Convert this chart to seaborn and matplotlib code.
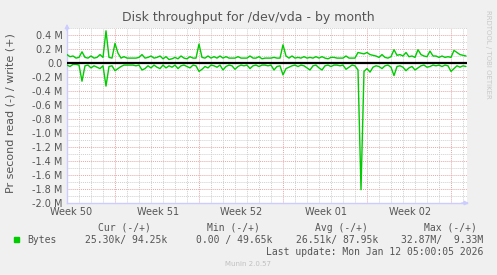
import numpy as np
import pandas as pd
import matplotlib
matplotlib.use("Agg")
import matplotlib.pyplot as plt
import matplotlib.transforms as mtransforms
from matplotlib.ticker import MultipleLocator, FixedLocator
import seaborn as sns

# ---------------- data (MB/s, one sample every 6 h) ----------------
write_vals = [
    0.12, 0.09, 0.10, 0.07, 0.08, 0.16, 0.08, 0.07, 0.10, 0.07,
    0.08, 0.12, 0.08, 0.46, 0.08, 0.07, 0.28, 0.14, 0.07, 0.09,
    0.07, 0.07, 0.07, 0.07, 0.08, 0.12, 0.07, 0.08, 0.10, 0.07,
    0.08, 0.10, 0.06, 0.09, 0.05, 0.06, 0.08, 0.06, 0.10, 0.07,
    0.06, 0.09, 0.07, 0.07, 0.27, 0.08, 0.07, 0.10, 0.07, 0.09,
    0.07, 0.10, 0.07, 0.09, 0.07, 0.07, 0.07, 0.09, 0.07, 0.07,
    0.07, 0.10, 0.07, 0.07, 0.09, 0.06, 0.07, 0.07, 0.07, 0.08,
    0.07, 0.07, 0.26, 0.10, 0.07, 0.10, 0.07, 0.08, 0.07, 0.09,
    0.07, 0.08, 0.07, 0.09, 0.07, 0.09, 0.07, 0.06, 0.08, 0.08,
    0.07, 0.07, 0.07, 0.10, 0.07, 0.07, 0.07, 0.15, 0.14, 0.13,
    0.15, 0.12, 0.11, 0.10, 0.08, 0.12, 0.08, 0.07, 0.09, 0.19,
    0.11, 0.12, 0.10, 0.15, 0.09, 0.10, 0.08, 0.19, 0.12, 0.10,
    0.09, 0.17, 0.10, 0.10, 0.08, 0.10, 0.08, 0.09, 0.08, 0.18,
    0.15, 0.12, 0.11, 0.10,
]
read_vals = [
    0.03, 0.05, 0.02, 0.02, 0.03, 0.26, 0.04, 0.03, 0.07, 0.04,
    0.06, 0.08, 0.04, 0.33, 0.05, 0.04, 0.11, 0.08, 0.05, 0.03,
    0.03, 0.03, 0.03, 0.04, 0.03, 0.10, 0.08, 0.04, 0.07, 0.03,
    0.06, 0.08, 0.03, 0.07, 0.04, 0.06, 0.03, 0.08, 0.04, 0.03,
    0.05, 0.07, 0.03, 0.04, 0.12, 0.09, 0.05, 0.07, 0.03, 0.04,
    0.06, 0.03, 0.10, 0.05, 0.03, 0.04, 0.09, 0.05, 0.03, 0.04,
    0.03, 0.08, 0.04, 0.03, 0.05, 0.03, 0.03, 0.04, 0.03, 0.10,
    0.05, 0.04, 0.17, 0.08, 0.06, 0.04, 0.03, 0.05, 0.03, 0.04,
    0.07, 0.10, 0.04, 0.03, 0.07, 0.10, 0.04, 0.03, 0.05, 0.03,
    0.03, 0.04, 0.03, 0.09, 0.06, 0.03, 0.04, 0.10, 1.81, 0.12,
    0.08, 0.13, 0.06, 0.04, 0.05, 0.08, 0.04, 0.03, 0.06, 0.18,
    0.05, 0.04, 0.06, 0.11, 0.07, 0.05, 0.10, 0.07, 0.04, 0.03,
    0.06, 0.05, 0.03, 0.04, 0.03, 0.05, 0.03, 0.04, 0.12, 0.08,
    0.04, 0.06, 0.04, 0.05,
]
sample_step_days = 0.25
week_labels = ["Week 50", "Week 51", "Week 52", "Week 01", "Week 02"]
week_label_days = [0.3, 7.55, 14.55, 21.55, 28.55]
week_boundary_days = [4, 11, 18, 25, 32]
ytick_vals = [0.4, 0.2, 0.0, -0.2, -0.4, -0.6, -0.8, -1.0, -1.2, -1.4,
              -1.6, -1.8, -2.0]
ytick_labels = ["0.4 M", "0.2 M", "0.0", "-0.2 M", "-0.4 M", "-0.6 M",
                "-0.8 M", "-1.0 M", "-1.2 M", "-1.4 M", "-1.6 M",
                "-1.8 M", "-2.0 M"]
legend_headers = ["Cur (-/+)", "Min (-/+)", "Avg (-/+)", "Max (-/+)"]
legend_values = ["25.30k/ 94.25k", "0.00 / 49.65k", "26.51k/ 87.95k",
                 "32.87M/  9.33M"]
series_name = "Bytes"
title = "Disk throughput for /dev/vda - by month"
ylabel = "Pr second read (-) / write (+)"
last_update = "Last update: Mon Jan 12 05:00:05 2026"
footer = "Munin 2.0.57"
side_text = "RRDTOOL / TOBI OETIKER"

# ---------------- build frame ----------------
n = len(write_vals)
t = np.arange(n) * sample_step_days
df = pd.concat([
    pd.DataFrame({"t": t, "v": write_vals, "dir": "write"}),
    pd.DataFrame({"t": t, "v": [-v for v in read_vals], "dir": "read"}),
])

sns.set_theme(style="white")
plt.rcParams["font.family"] = ["DejaVu Sans"]

W, H = 497, 275
BG = "#F0F0F0"
TXT = "#555555"
GREEN = "#00CC00"
fig = plt.figure(figsize=(W / 100, H / 100), dpi=100, facecolor=BG)
L, R, T, B = 67, 467, 28, 203
ax = fig.add_axes([L / W, 1 - B / H, (R - L) / W, (B - T) / H])
ax.set_facecolor("white")

sns.lineplot(data=df, x="t", y="v", units="dir", estimator=None,
             color=GREEN, linewidth=1.0, ax=ax, legend=False, zorder=4)
ax.axhline(0, color="black", linewidth=1.6, zorder=5)

ax.set_xlim(0, (R - L) / 12)
ax.set_ylim(-2.0, 0.5)

# grid
ax.xaxis.set_major_locator(FixedLocator(week_boundary_days))
ax.xaxis.set_minor_locator(MultipleLocator(1))
ax.set_yticks(ytick_vals)
ax.set_yticklabels(ytick_labels)
ax.yaxis.set_minor_locator(MultipleLocator(0.1))
ax.grid(which="minor", color="#D0D0D0", linestyle=(0, (1, 1)), linewidth=0.7, zorder=0)
ax.grid(which="major", color="#E8A8A8", linestyle=(0, (1, 1)), linewidth=0.7, zorder=1)
ax.set_axisbelow(True)
ax.set_xticklabels([])
ax.tick_params(axis="x", which="major", length=2.5, color="#E08080", width=0.7, direction="out")
ax.tick_params(axis="x", which="minor", length=0)
ax.tick_params(axis="y", which="both", length=0, pad=3, labelsize=7, labelcolor=TXT)
for lbl in ax.get_yticklabels():
    lbl.set_fontfamily("DejaVu Sans")
ax.set_xlabel("")
ax.set_ylabel("")

for s in ["top", "right"]:
    ax.spines[s].set_visible(False)
for s in ["left", "bottom"]:
    ax.spines[s].set_color("#CCCCFF")
    ax.spines[s].set_linewidth(1.0)

# axis arrows
ax.annotate("", xy=(0, 1.04), xytext=(0, 0.97), xycoords="axes fraction",
            arrowprops=dict(arrowstyle="-|>", color="#CCCCFF", lw=1, mutation_scale=6),
            annotation_clip=False)
ax.annotate("", xy=(1.012, 0), xytext=(0.98, 0), xycoords="axes fraction",
            arrowprops=dict(arrowstyle="-|>", color="#CCCCFF", lw=1, mutation_scale=6),
            annotation_clip=False)

# week labels
trans = mtransforms.blended_transform_factory(ax.transData, fig.transFigure)
for d, lab in zip(week_label_days, week_labels):
    ax.text(d, 1 - 212 / H, lab, transform=trans, ha="center", va="center",
            fontsize=7, color=TXT)

# titles
fig.text(248 / W, 1 - 18 / H, title, ha="center", va="center", fontsize=9, color=TXT)
fig.text(11 / W, 1 - 113 / H, ylabel, ha="center", va="center", rotation=90,
         fontsize=8, color=TXT)
fig.text(488 / W, 1 - 54 / H, side_text, ha="center", va="center", rotation=270,
         fontsize=5, color="#C8C8C8")

# legend block
mono = "DejaVu Sans Mono"
fig.patches.append(plt.Rectangle((14 / W, 1 - 242 / H), 5 / W, 5 / H,
                                 transform=fig.transFigure, color=GREEN))
fig.text(27 / W, 1 - 240 / H, series_name, ha="left", va="center", fontsize=7,
         color=TXT, family=mono)
header_right = [151, 260, 368, 477]
value_right = [167, 272, 378, 483]
for hx, h in zip(header_right, legend_headers):
    fig.text(hx / W, 1 - 228 / H, h, ha="right", va="center", fontsize=7,
             color=TXT, family=mono)
for vx, v in zip(value_right, legend_values):
    fig.text(vx / W, 1 - 240 / H, v, ha="right", va="center", fontsize=7,
             color=TXT, family=mono)
fig.text(483 / W, 1 - 252 / H, last_update, ha="right", va="center", fontsize=7,
         color=TXT, family=mono)
fig.text(248 / W, 1 - 264 / H, footer, ha="center", va="center", fontsize=5,
         color="#C0C0C0")

fig.savefig("out.png", dpi=100, facecolor=BG)
